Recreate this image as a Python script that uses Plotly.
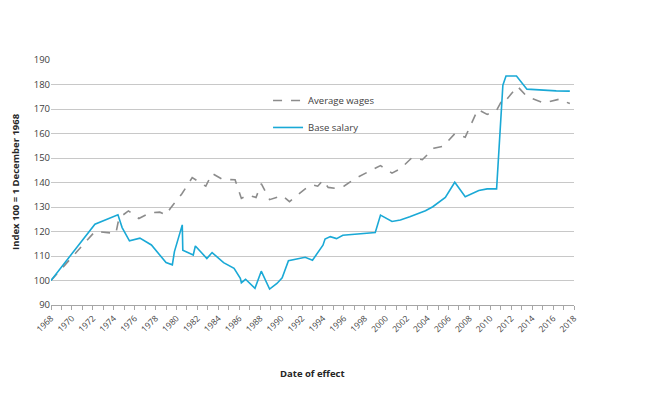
import plotly.graph_objects as go

# Base salary (index, 1 Dec 1968 = 100)
base_year = [1968.0, 1972.2, 1974.4, 1974.8, 1975.5, 1976.5, 1977.6, 1979.0, 1979.6, 1979.8,
             1980.55, 1980.6, 1981.6, 1981.8, 1982.9, 1983.4, 1984.5, 1985.5, 1986.1, 1986.2,
             1986.6, 1987.5, 1988.1, 1988.9, 1989.6, 1990.1, 1990.7, 1991.8, 1992.3, 1993.0,
             1994.0, 1994.2, 1994.7, 1995.3, 1995.9, 1999.0, 1999.5, 2000.6, 2001.4, 2002.3,
             2003.8, 2004.5, 2005.7, 2006.6, 2007.6, 2008.9, 2009.7, 2010.6, 2011.2, 2011.5,
             2012.5, 2013.5, 2014.7, 2016.3, 2017.6]
base_val = [100.0, 123.0, 126.8, 121.6, 116.2, 117.3, 114.5, 107.3, 106.4, 111.8,
            122.7, 112.4, 110.4, 114.1, 109.0, 111.4, 107.3, 105.0, 100.9, 99.1,
            100.5, 96.8, 103.8, 96.5, 98.8, 101.1, 108.1, 108.9, 109.5, 108.3,
            114.4, 116.9, 117.9, 117.1, 118.5, 119.6, 126.7, 124.1, 124.7, 126.0,
            128.5, 130.1, 133.9, 140.1, 134.2, 136.7, 137.4, 137.4, 179.7, 183.5,
            183.5, 178.1, 177.7, 177.4, 177.3]

# Average wages
avg_year = [1968.0, 1972.2, 1974.2, 1974.5, 1975.4, 1976.4, 1977.5, 1978.4, 1979.0, 1979.4,
            1980.5, 1981.5, 1982.8, 1983.4, 1984.4, 1985.6, 1986.2, 1986.8, 1987.6, 1988.1,
            1988.9, 1990.1, 1990.8, 1992.3, 1993.0, 1993.5, 1994.0, 1994.5, 1995.2, 1996.0,
            1997.2, 1999.5, 2000.6, 2001.4, 2002.5, 2003.5, 2004.6, 2005.5, 2006.6, 2007.6,
            2008.8, 2009.7, 2010.6, 2011.2, 2011.5, 2012.6, 2013.5, 2015.1, 2016.6, 2017.6]
avg_val = [100.0, 120.0, 119.2, 125.5, 128.4, 125.3, 127.7, 127.9, 126.8, 129.4,
           135.3, 142.0, 138.5, 143.7, 141.3, 141.1, 133.5, 134.9, 133.9, 139.5,
           133.0, 134.7, 132.2, 137.4, 139.0, 138.5, 140.9, 138.0, 137.6, 138.5,
           141.9, 146.9, 143.8, 145.6, 150.1, 149.3, 154.0, 154.8, 159.9, 158.5,
           169.8, 167.8, 169.5, 174.2, 173.6, 179.2, 175.1, 172.5, 174.0, 172.2]

fig = go.Figure()
fig.add_trace(go.Scatter(x=avg_year, y=avg_val, mode="lines", name="Average wages",
                         legendgroup="a",
                         line=dict(color="#8c8c8c", width=1.6, dash="dash")))
fig.add_trace(go.Scatter(x=base_year, y=base_val, mode="lines", name="Base salary",
                         legendgroup="b",
                         line=dict(color="#1aa9d6", width=1.6)))

# the page body adds an 8px offset, so margins are shifted to compensate
fig.update_layout(
    width=648, height=399,
    margin=dict(l=43, r=82, t=52, b=102, autoexpand=False),
    paper_bgcolor="white", plot_bgcolor="white",
    font=dict(family="Open Sans, Liberation Sans, sans-serif", size=9, color="#404040"),
    legend=dict(x=0.415, y=0.894, xanchor="left", yanchor="top",
                bgcolor="rgba(0,0,0,0)", tracegroupgap=8,
                font=dict(size=9.5, color="#404040")),
    xaxis=dict(
        range=[1968, 2018], tickmode="linear", tick0=1968, dtick=2,
        tickangle=-45, ticks="outside", ticklen=4, tickcolor="#a6a6a6",
        showline=True, linecolor="#a6a6a6", linewidth=1,
        showgrid=False, zeroline=False, automargin=False,
        minor=dict(dtick=1, ticks="outside", ticklen=4, tickcolor="#a6a6a6", showgrid=False),
        tickfont=dict(size=8.5),
    ),
    yaxis=dict(
        range=[90, 190], dtick=10, showgrid=True, gridcolor="#c8c8c8", gridwidth=1,
        zeroline=False, showline=False, ticks="", automargin=False,
        tickfont=dict(size=9.5),
    ),
    annotations=[
        dict(text="<b>Date of effect</b>", xref="paper", yref="paper",
             x=0.5, y=-(373 - 305) / 245, xanchor="center", yanchor="middle",
             showarrow=False, font=dict(size=9.5, color="#262626")),
        dict(text="<b>Index 100 = 1 December 1968</b>", xref="paper", yref="paper",
             x=-(51 - 15) / 523, y=(305 - 182) / 245, xanchor="center", yanchor="middle",
             textangle=-90, showarrow=False, font=dict(size=9.5, color="#262626")),
    ],
)

fig.write_html("out.html")
